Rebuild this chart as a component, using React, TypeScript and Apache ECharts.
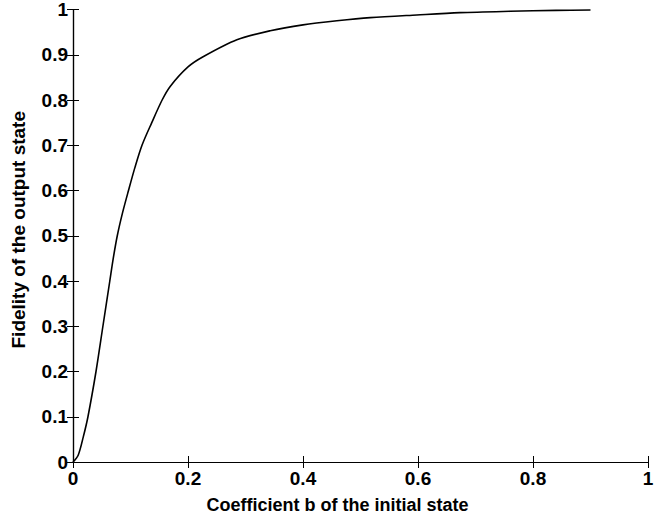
import React, { useEffect, useRef } from "react";
import * as echarts from "echarts";

const bValues = [0, 0.009, 0.018, 0.026, 0.04, 0.052, 0.064, 0.07, 0.077, 0.086, 0.0965, 0.1075, 0.12, 0.137, 0.155, 0.169, 0.2, 0.227, 0.285, 0.343, 0.4, 0.459, 0.517, 0.598, 0.673, 0.76, 0.84, 0.9];
const fidelity = [0, 0.015, 0.056, 0.1, 0.2, 0.3, 0.4, 0.45, 0.5, 0.55, 0.6, 0.65, 0.7, 0.75, 0.8, 0.83, 0.873, 0.896, 0.933, 0.953, 0.966, 0.975, 0.982, 0.988, 0.993, 0.996, 0.998, 0.999];
const xTickStep = 0.2;
const yTickStep = 0.1;
const xName = "Coefficient b of the initial state";
const yName = "Fidelity of the output state";

const FONT = "'Liberation Sans', Arial, Helvetica, sans-serif";

export default function App() {
  const ref = useRef<HTMLDivElement>(null);
  useEffect(() => {
    if (!ref.current) return;
    const chart = echarts.init(ref.current, undefined, { renderer: "svg" });
    const axisCommon = {
      type: "value" as const,
      min: 0,
      max: 1,
      axisLine: { show: true, lineStyle: { color: "#000", width: 1.2 } },
      axisTick: { show: true, inside: true, length: 6, lineStyle: { color: "#000", width: 1 } },
      splitLine: { show: false },
    };
    const labelStyle = { color: "#000", fontFamily: FONT, fontWeight: "bold" as const, fontSize: 19 };
    chart.setOption({
      animation: false,
      backgroundColor: "#fff",
      grid: { left: 73, top: 8, right: 24, bottom: 58, containLabel: false },
      xAxis: [
        {
          ...axisCommon,
          position: "bottom",
          interval: xTickStep,
          axisLabel: { ...labelStyle, margin: 7, formatter: (v: number) => (v === 0 || v === 1 ? String(v) : v.toFixed(1)) },
          name: xName,
          nameLocation: "middle",
          nameGap: 34,
          nameTextStyle: { ...labelStyle, fontSize: 18, padding: [0, 46, 0, 0] },
        },
        {
          ...axisCommon,
          position: "top",
          interval: xTickStep,
          axisLabel: { show: false },
        },
      ],
      yAxis: [
        {
          ...axisCommon,
          position: "left",
          interval: yTickStep,
          axisLabel: { ...labelStyle, margin: 5, formatter: (v: number) => (v === 0 || v === 1 ? String(Math.round(v)) : v.toFixed(1)) },
          name: yName,
          nameLocation: "middle",
          nameGap: 45,
          nameTextStyle: { ...labelStyle, padding: [0, 0, 0, 12] },
        },
        {
          ...axisCommon,
          position: "right",
          interval: yTickStep,
          axisLabel: { show: false },
        },
      ],
      series: [
        {
          type: "line",
          data: bValues.map((b, i) => [b, fidelity[i]]),
          smooth: 0.3,
          showSymbol: false,
          lineStyle: { color: "#000", width: 1.6 },
          clip: false,
        },
      ],
    });
    return () => chart.dispose();
  }, []);
  return <div ref={ref} style={{ width: 672, height: 520, position: "absolute", left: 0, top: 0 }} />;
}
